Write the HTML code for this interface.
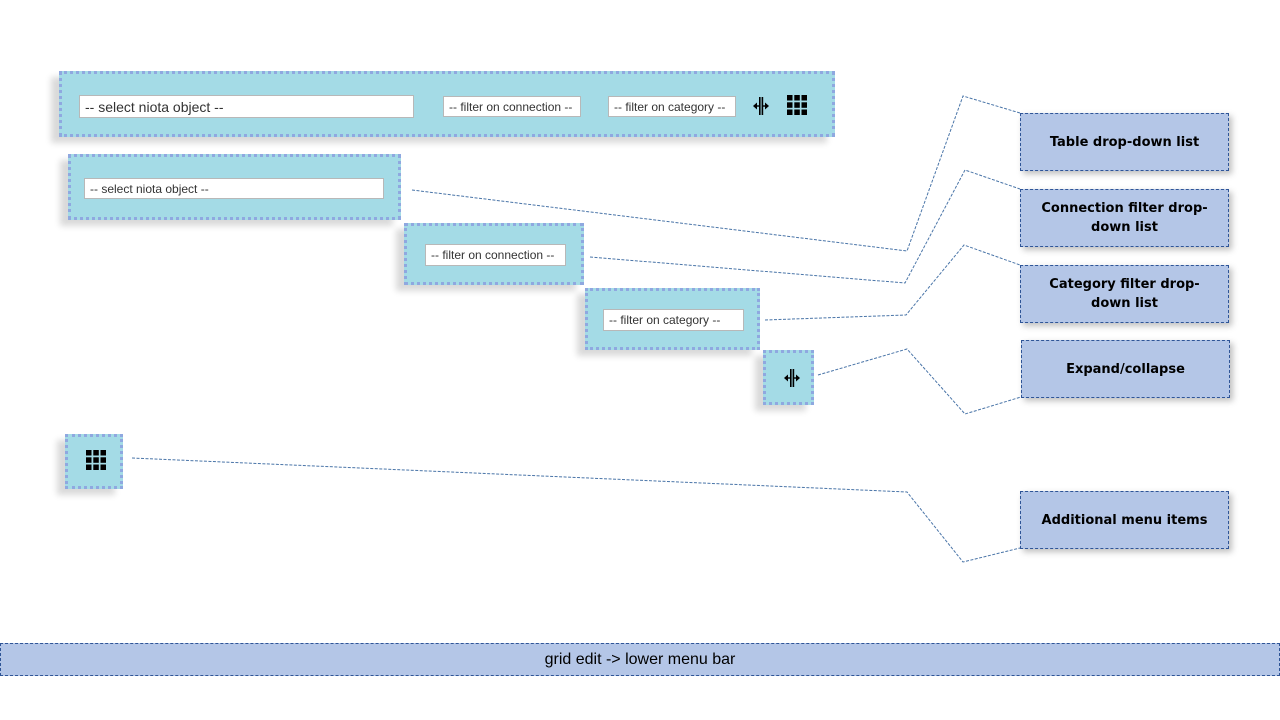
<!DOCTYPE html>
<html><head><style>
body{margin:0;width:1280px;height:720px;background:#fff;position:relative;overflow:hidden;font-family:"Liberation Sans",sans-serif}
.c{position:absolute;background:#a4dbe6;border:3px dotted #8fa8e0;box-sizing:border-box;box-shadow:-8px 6px 6px rgba(0,0,0,0.15)}
.in{position:absolute;background:#fff;border:1px solid #b8b8b8;box-sizing:border-box;color:#333;font-size:12px;padding-left:5px;display:flex;align-items:center;white-space:nowrap}
.co{position:absolute;background:#b4c6e7;border:1px dashed #2f5597;box-sizing:border-box;font-family:"DejaVu Sans","Liberation Sans",sans-serif;font-weight:bold;font-size:13px;display:flex;align-items:center;justify-content:center;text-align:center;line-height:19px;box-shadow:3px 3px 6px rgba(0,0,0,0.25);padding:0 10px}
svg{position:absolute;left:0;top:0}
</style></head><body>
<div class="c" style="left:59px;top:71px;width:776px;height:66px"></div>
<div class="in" style="left:79px;top:95px;width:335px;height:23px;font-size:14px">-- select niota object --</div>
<div class="in" style="left:443px;top:96px;width:138px;height:21px">-- filter on connection --</div>
<div class="in" style="left:608px;top:96px;width:128px;height:21px">-- filter on category --</div>
<div class="c" style="left:68px;top:154px;width:333px;height:66px"></div>
<div class="in" style="left:84px;top:178px;width:300px;height:21px">-- select niota object --</div>
<div class="c" style="left:404px;top:223px;width:180px;height:62px"></div>
<div class="in" style="left:425px;top:244px;width:141px;height:22px">-- filter on connection --</div>
<div class="c" style="left:585px;top:288px;width:175px;height:62px"></div>
<div class="in" style="left:603px;top:309px;width:141px;height:22px">-- filter on category --</div>
<div class="c" style="left:763px;top:350px;width:51px;height:55px"></div>
<div class="c" style="left:65px;top:434px;width:58px;height:55px"></div>
<div class="co" style="left:1020px;top:113px;width:209px;height:58px">Table drop-down list</div>
<div class="co" style="left:1020px;top:189px;width:209px;height:58px">Connection filter drop-down list</div>
<div class="co" style="left:1020px;top:265px;width:209px;height:58px">Category filter drop-down list</div>
<div class="co" style="left:1021px;top:340px;width:209px;height:58px">Expand/collapse</div>
<div class="co" style="left:1020px;top:491px;width:209px;height:58px">Additional menu items</div>
<div class="co" style="left:0;top:643px;width:1280px;height:33px;font-family:'Liberation Sans',sans-serif;font-weight:normal;font-size:16px;box-shadow:none">grid edit -&gt; lower menu bar</div>
<svg width="1280" height="720">
<defs>
<g id="ex"><rect x="-2" y="-9" width="1.6" height="18"/><rect x="0.6" y="-9" width="1.6" height="18"/><path d="M-8,0 L-4,-3.5 L-4,3.5Z"/><rect x="-5" y="-0.7" width="3" height="1.4"/><path d="M8,0 L4,-3.5 L4,3.5Z"/><rect x="2" y="-0.7" width="3" height="1.4"/></g>
<g id="gr"><rect x="-10" y="-10" width="5.5" height="5.5"/><rect x="-2.7" y="-10" width="5.5" height="5.5"/><rect x="4.5" y="-10" width="5.5" height="5.5"/><rect x="-10" y="-2.7" width="5.5" height="5.5"/><rect x="-2.7" y="-2.7" width="5.5" height="5.5"/><rect x="4.5" y="-2.7" width="5.5" height="5.5"/><rect x="-10" y="4.5" width="5.5" height="5.5"/><rect x="-2.7" y="4.5" width="5.5" height="5.5"/><rect x="4.5" y="4.5" width="5.5" height="5.5"/></g>
</defs>
<g fill="none" stroke="#4a75a8" stroke-width="1" stroke-dasharray="3,1.5">
<polyline points="412,190 907,251 963,96 1020,113"/>
<polyline points="590,257 905,283 965,170 1020,189"/>
<polyline points="765,320 906,315 964,245 1020,265"/>
<polyline points="818,375 907,349 965,414 1021,397"/>
<polyline points="132,458 907,492 963,562 1020,548"/>
</g>
<g fill="#000">
<use href="#ex" x="761" y="106"/>
<use href="#ex" x="792" y="378"/>
<use href="#gr" x="797" y="105"/>
<use href="#gr" x="96" y="460"/>
</g>
</svg>
</body></html>
